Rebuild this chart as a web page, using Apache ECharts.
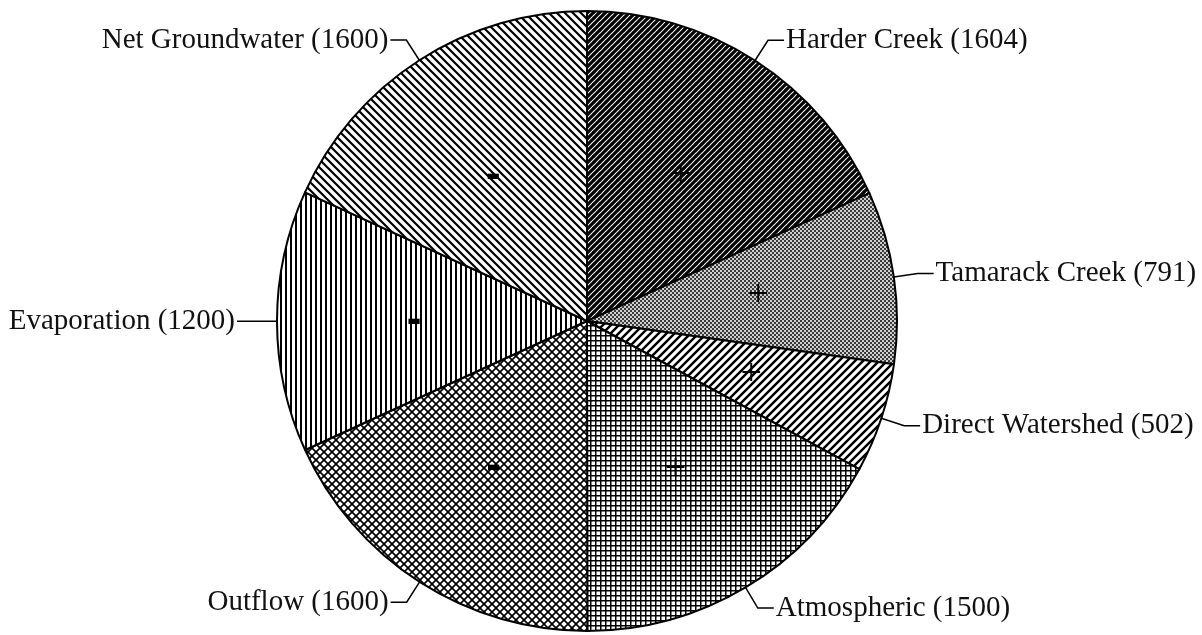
<!DOCTYPE html>
<html>
<head>
<meta charset="utf-8">
<script src="https://cdn.jsdelivr.net/npm/echarts@6/dist/echarts.min.js"></script>
<style>
  html, body { margin: 0; padding: 0; background: #fff; }
  #chart { width: 1202px; height: 635px; }
</style>
</head>
<body>
<div id="chart"></div>
<script>
// budget terms, clockwise from 12 o'clock
var names = ['Harder Creek', 'Tamarack Creek', 'Direct Watershed', 'Atmospheric', 'Outflow', 'Evaporation', 'Net Groundwater'];
var values = [1604, 791, 502, 1500, 1600, 1200, 1600];
var signs = ['+', '+', '+', '+', '-', '-', '-'];
var fills = ['diagDense', 'dots', 'diagUp', 'grid', 'cross', 'vert', 'diagDown'];

// small canvas tiles used as fill patterns
function tile(kind) {
  var c = document.createElement('canvas');
  var s = 8;
  if (kind == 'diagDense') s = 6;
  if (kind == 'dots') s = 4;
  if (kind == 'grid') s = 5;
  if (kind == 'vert') s = 5;
  c.width = s; c.height = s;
  var ctx = c.getContext('2d');
  ctx.fillStyle = '#fff';
  ctx.fillRect(0, 0, s, s);
  ctx.strokeStyle = '#000';
  ctx.fillStyle = '#000';
  function up(w) {
    ctx.lineWidth = w;
    ctx.beginPath();
    ctx.moveTo(-1, s + 1); ctx.lineTo(s + 1, -1);
    ctx.moveTo(-1, 1); ctx.lineTo(1, -1);
    ctx.moveTo(s - 1, s + 1); ctx.lineTo(s + 1, s - 1);
    ctx.stroke();
  }
  function down(w) {
    ctx.lineWidth = w;
    ctx.beginPath();
    ctx.moveTo(-1, -1); ctx.lineTo(s + 1, s + 1);
    ctx.moveTo(s - 1, -1); ctx.lineTo(s + 1, 1);
    ctx.moveTo(-1, s - 1); ctx.lineTo(1, s + 1);
    ctx.stroke();
  }
  if (kind == 'diagDense') up(3.2);
  if (kind == 'diagUp') up(2.4);
  if (kind == 'diagDown') down(2.2);
  if (kind == 'cross') { up(1.6); down(1.6); }
  if (kind == 'vert') ctx.fillRect(0, 0, 2, s);
  if (kind == 'grid') { ctx.fillRect(0, 0, s, 1.5); ctx.fillRect(0, 0, 1.5, s); }
  if (kind == 'dots') {
    ctx.fillStyle = '#3a3a3a';
    ctx.fillRect(0, 0, 2, 2); ctx.fillRect(2, 2, 2, 2);
    ctx.fillStyle = '#cfcfcf';
    ctx.fillRect(2, 0, 2, 2); ctx.fillRect(0, 2, 2, 2);
  }
  return c;
}

var pieData = names.map(function (n, i) {
  return {
    name: n,
    value: values[i],
    itemStyle: { color: { image: tile(fills[i]), repeat: 'repeat' } }
  };
});
var signData = names.map(function (n, i) {
  return { name: n, value: values[i], sign: signs[i] };
});

var myChart = echarts.init(document.getElementById('chart'), null, { renderer: 'canvas' });
var option = {
  backgroundColor: '#fff',
  animation: false,
  series: [
    {
      type: 'pie',
      center: [587, 321],
      radius: 310,
      startAngle: 90,
      clockwise: true,
      avoidLabelOverlap: false,
      data: pieData,
      itemStyle: { borderColor: '#000', borderWidth: 2 },
      label: {
        show: true,
        position: 'outside',
        color: '#111',
        fontFamily: 'Liberation Serif',
        fontSize: 29,
        distanceToLabelLine: 2,
        formatter: function (p) { return p.name + ' (' + p.value + ')'; }
      },
      labelLine: {
        show: true,
        length: 24,
        length2: 16,
        lineStyle: { color: '#000', width: 1.5 }
      },
      emphasis: { disabled: true }
    },
    {
      type: 'pie',
      center: [587, 321],
      radius: 340,
      startAngle: 90,
      clockwise: true,
      silent: true,
      data: signData,
      itemStyle: { color: 'rgba(0,0,0,0)', borderWidth: 0 },
      label: {
        show: true,
        position: 'inside',
        fontFamily: 'Liberation Serif',
        formatter: function (p) {
          return p.data.sign == '+' ? '{p|+}' : '{m|-}';
        },
        rich: {
          p: { fontSize: 38, color: '#000', fontFamily: 'Liberation Serif' },
          m: { fontSize: 44, fontWeight: 'bold', color: '#000', fontFamily: 'Liberation Sans' }
        }
      },
      labelLine: { show: false },
      emphasis: { disabled: true }
    }
  ]
};
myChart.setOption(option);
</script>
</body>
</html>
